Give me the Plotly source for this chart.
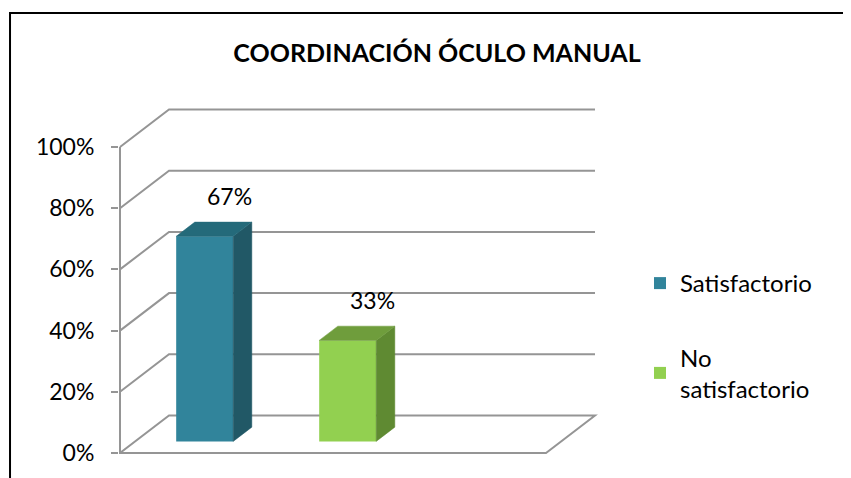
import plotly.graph_objects as go

# ---------------- data ----------------
categories = ["Satisfactorio", "No<br>satisfactorio"]
values = [0.67, 0.33]
value_labels = ["67%", "33%"]
tick_vals = [0, 0.2, 0.4, 0.6, 0.8, 1.0]
tick_text = ["0%", "20%", "40%", "60%", "80%", "100%"]
title_text = "<b>COORDINACIÓN ÓCULO MANUAL</b>"

front_colors = ["#31849B", "#92D050"]
side_colors = ["#215866", "#5F8A32"]
top_colors = ["#246A7A", "#6F9D3C"]

# ---------------- pseudo-3D geometry (layout, not data) ----------------
DX = 49          # horizontal shift (x units) for full depth
DY = 0.1225      # vertical shift (y units) for full depth
Z0, Z1 = 0.31, 0.69   # bar depth extent
BAR_W = 57
BAR_LEFT0 = 41
BAR_STEP = 143
WALL_RIGHT = 475
FLOOR_FRONT = WALL_RIGHT - DX
GRID = "#959595"
FONT = "Lato"

fig = go.Figure()

shapes = []
# outer border
shapes.append(dict(type="path", xref="paper", yref="paper",
                   path="M 1.6,1.1146 L -0.2261,1.1146 L -0.2261,-0.2",
                   line=dict(color="black", width=2), layer="below"))
# back wall gridlines
for v in tick_vals[1:]:
    shapes.append(dict(type="path", xref="x", yref="y", layer="below",
                       path=f"M 0,{v} L {DX},{v + DY} L {WALL_RIGHT},{v + DY}",
                       line=dict(color=GRID, width=2)))
# floor
shapes.append(dict(type="path", xref="x", yref="y", layer="below",
                   path=f"M 0,0 L {FLOOR_FRONT},0 L {WALL_RIGHT},{DY} L {DX},{DY} Z",
                   line=dict(color=GRID, width=2)))
# front vertical axis line
shapes.append(dict(type="line", xref="x", yref="y", layer="below",
                   x0=0, y0=0, x1=0, y1=tick_vals[-1],
                   line=dict(color=GRID, width=2)))

annotations = []
for i, (cat, v, lab) in enumerate(zip(categories, values, value_labels)):
    xl = BAR_LEFT0 + i * BAR_STEP
    xr = xl + BAR_W
    # front face as a real bar
    fig.add_trace(go.Bar(
        x=[xl + BAR_W / 2 + Z0 * DX], y=[v], base=Z0 * DY, width=BAR_W,
        name=cat, legendgroup=f"g{i}",
        marker=dict(color=front_colors[i], line=dict(width=0)),
        hoverinfo="skip"))
    # side face
    fig.add_trace(go.Scatter(
        x=[xr + Z0 * DX, xr + Z1 * DX, xr + Z1 * DX, xr + Z0 * DX, xr + Z0 * DX],
        y=[Z0 * DY, Z1 * DY, v + Z1 * DY, v + Z0 * DY, Z0 * DY],
        mode="lines", fill="toself", fillcolor=side_colors[i],
        line=dict(width=0.5, color=side_colors[i]), showlegend=False, hoverinfo="skip"))
    # top face
    fig.add_trace(go.Scatter(
        x=[xl + Z0 * DX, xr + Z0 * DX, xr + Z1 * DX, xl + Z1 * DX, xl + Z0 * DX],
        y=[v + Z0 * DY, v + Z0 * DY, v + Z1 * DY, v + Z1 * DY, v + Z0 * DY],
        mode="lines", fill="toself", fillcolor=top_colors[i],
        line=dict(width=0.5, color=top_colors[i]), showlegend=False, hoverinfo="skip"))
    annotations.append(dict(
        x=xl + BAR_W / 2 + Z1 * DX + 6, y=v + Z1 * DY, xref="x", yref="y",
        text=lab, showarrow=False, yanchor="middle", yshift=26,
        font=dict(family=FONT, size=23, color="black")))

fig.update_layout(
    width=851, height=478,
    margin=dict(l=111, r=258, t=52, b=16),
    paper_bgcolor="white", plot_bgcolor="white",
    barmode="overlay",
    shapes=shapes, annotations=annotations,
    title=dict(text=title_text, x=429 / 851, xanchor="center", xref="container",
               y=1 - 45 / 478, yanchor="middle", yref="container",
               font=dict(family=FONT, size=25, color="black")),
    xaxis=dict(range=[-1, 481], visible=False, fixedrange=True),
    yaxis=dict(range=[(453 - 470) / 306, (453 - 60) / 306],
               tickvals=tick_vals, ticktext=tick_text,
               ticks="outside", ticklen=7, tickwidth=2, tickcolor=GRID,
               ticklabelstandoff=12,
               showgrid=False, zeroline=False, showline=False,
               tickfont=dict(family=FONT, size=23, color="black"),
               fixedrange=True),
    legend=dict(x=632 / 851, xref="container", y=1 - 253 / 478, yref="container",
                yanchor="top", xanchor="left", tracegroupgap=40,
                font=dict(family=FONT, size=24, color="black"),
                bgcolor="rgba(0,0,0,0)"),
    showlegend=True,
)

fig.write_html("out.html")
